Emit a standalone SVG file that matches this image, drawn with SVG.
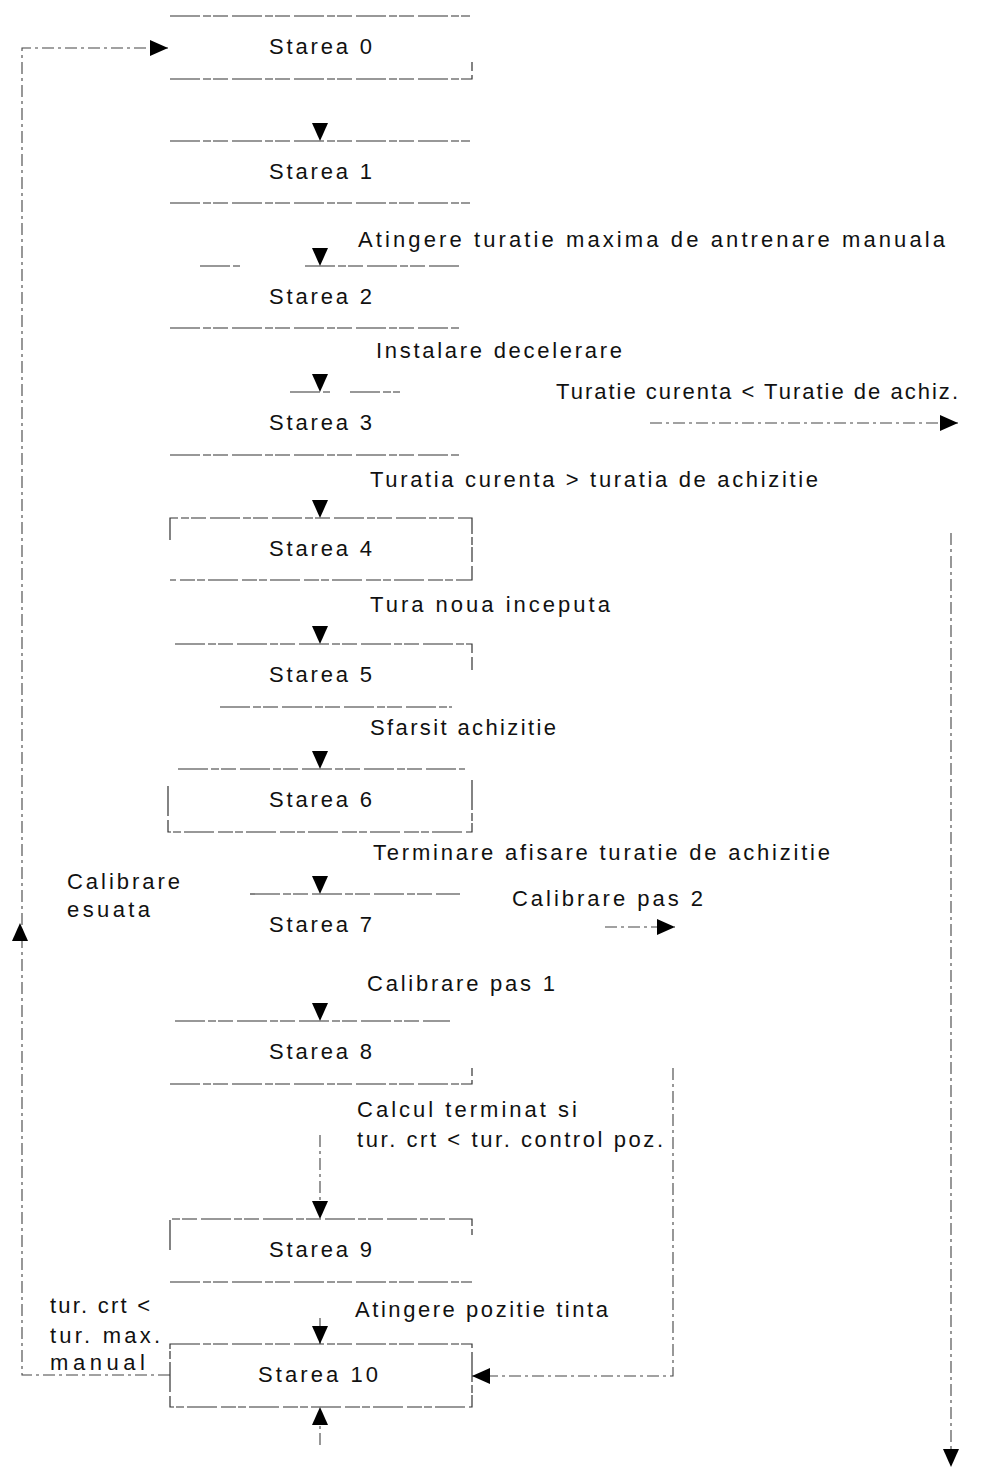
<svg xmlns="http://www.w3.org/2000/svg" width="986" height="1467" viewBox="0 0 986 1467">
<style>
text{font-family:"Liberation Sans",Arial,sans-serif;font-size:22px;fill:#111}
.st{text-anchor:middle}
.edge{fill:none;stroke:#333;stroke-width:1.2;stroke-dasharray:30 3 8 2 15 4}
.conn{fill:none;stroke:#444;stroke-width:1.1;stroke-dasharray:12 4 3 4}
.head{fill:none;stroke:none}
</style>
<defs>
<marker id="ah" viewBox="0 0 18 16" refX="18" refY="8" markerWidth="18" markerHeight="16" markerUnits="userSpaceOnUse" orient="auto">
<path d="M0,0 L18,8 L0,16 Z" fill="#000"/>
</marker>
</defs>
<g id="connectors">
<path class="conn" d="M170,1375 H22 V48 H168" marker-end="url(#ah)"/>
<path class="head" d="M320,110 V141" marker-end="url(#ah)"/>
<path class="head" d="M320,235 V266" marker-end="url(#ah)"/>
<path class="head" d="M320,361 V392" marker-end="url(#ah)"/>
<path class="head" d="M320,487 V518" marker-end="url(#ah)"/>
<path class="head" d="M320,613 V644" marker-end="url(#ah)"/>
<path class="head" d="M320,738 V769" marker-end="url(#ah)"/>
<path class="head" d="M320,863 V894" marker-end="url(#ah)"/>
<path class="head" d="M320,990 V1021" marker-end="url(#ah)"/>
<path class="conn" d="M320,1135 V1219" marker-end="url(#ah)"/>
<path class="conn" d="M320,1318 V1344" marker-end="url(#ah)"/>
<path class="conn" d="M320,1445 V1407" marker-end="url(#ah)"/>
<path class="conn" d="M650,423 H958" marker-end="url(#ah)"/>
<path class="conn" d="M951,533 V1467" marker-end="url(#ah)"/>
<path class="conn" d="M605,927 H675" marker-end="url(#ah)"/>
<path class="conn" d="M673,1068 V1376 H472" marker-end="url(#ah)"/>
<path class="head" d="M20,950 V923" marker-end="url(#ah)"/>
</g>
<g id="s0"><path class="edge" d="M170,16 H470 M170,79 H472 V62"/><text class="st" x="320.5" y="54" textLength="103" lengthAdjust="spacing">Starea 0</text></g>
<g id="s1"><path class="edge" d="M170,141 H470 M170,203 H470"/><text class="st" x="320.5" y="179" textLength="103" lengthAdjust="spacing">Starea 1</text></g>
<g id="s2"><path class="edge" d="M200,266 H240 M305,266 H460 M170,328 H460"/><text class="st" x="320.5" y="304" textLength="103" lengthAdjust="spacing">Starea 2</text></g>
<g id="s3"><path class="edge" d="M290,392 H330 M350,392 H400 M170,455 H460"/><text class="st" x="320.5" y="430" textLength="103" lengthAdjust="spacing">Starea 3</text></g>
<g id="s4"><path class="edge" d="M170,540 V518 H472 V580 H170"/><text class="st" x="320.5" y="556" textLength="103" lengthAdjust="spacing">Starea 4</text></g>
<g id="s5"><path class="edge" d="M175,644 H472 V670 M220,707 H452"/><text class="st" x="320.5" y="682" textLength="103" lengthAdjust="spacing">Starea 5</text></g>
<g id="s6"><path class="edge" d="M178,769 H465 M472,780 V832 H168 V785"/><text class="st" x="320.5" y="807" textLength="103" lengthAdjust="spacing">Starea 6</text></g>
<g id="s7"><path class="edge" d="M250,894 H460"/><text class="st" x="320.5" y="932" textLength="103" lengthAdjust="spacing">Starea 7</text></g>
<g id="s8"><path class="edge" d="M175,1021 H450 M170,1084 H472 V1068"/><text class="st" x="320.5" y="1059" textLength="103" lengthAdjust="spacing">Starea 8</text></g>
<g id="s9"><path class="edge" d="M170,1250 V1219 H472 V1235 M170,1282 H472"/><text class="st" x="320.5" y="1257" textLength="103" lengthAdjust="spacing">Starea 9</text></g>
<g id="s10"><path class="edge" d="M170,1344 H472 V1407 H170 Z"/><text class="st" x="318" y="1382" textLength="120" lengthAdjust="spacing">Starea 10</text></g>
<g id="labels">
<text x="358" y="247" textLength="587" lengthAdjust="spacing">Atingere turatie maxima de antrenare manuala</text>
<text x="376" y="358" textLength="246" lengthAdjust="spacing">Instalare decelerare</text>
<text x="556" y="399" textLength="402" lengthAdjust="spacing">Turatie curenta &lt; Turatie de achiz.</text>
<text x="370" y="487" textLength="448" lengthAdjust="spacing">Turatia curenta &gt; turatia de achizitie</text>
<text x="370" y="612" textLength="240" lengthAdjust="spacing">Tura noua inceputa</text>
<text x="370" y="735" textLength="186" lengthAdjust="spacing">Sfarsit achizitie</text>
<text x="373" y="860" textLength="457" lengthAdjust="spacing">Terminare afisare turatie de achizitie</text>
<text x="67" y="889" textLength="113" lengthAdjust="spacing">Calibrare</text>
<text x="67" y="917" textLength="83" lengthAdjust="spacing">esuata</text>
<text x="512" y="906" textLength="191" lengthAdjust="spacing">Calibrare pas 2</text>
<text x="367" y="991" textLength="188" lengthAdjust="spacing">Calibrare pas 1</text>
<text x="357" y="1117" textLength="220" lengthAdjust="spacing">Calcul terminat si</text>
<text x="357" y="1147" textLength="306" lengthAdjust="spacing">tur. crt &lt; tur. control poz.</text>
<text x="355" y="1317" textLength="253" lengthAdjust="spacing">Atingere pozitie tinta</text>
<text x="50" y="1313" textLength="100" lengthAdjust="spacing">tur. crt &lt;</text>
<text x="50" y="1343" textLength="110" lengthAdjust="spacing">tur. max.</text>
<text x="50" y="1370" textLength="95" lengthAdjust="spacing">manual</text>
</g>
</svg>
